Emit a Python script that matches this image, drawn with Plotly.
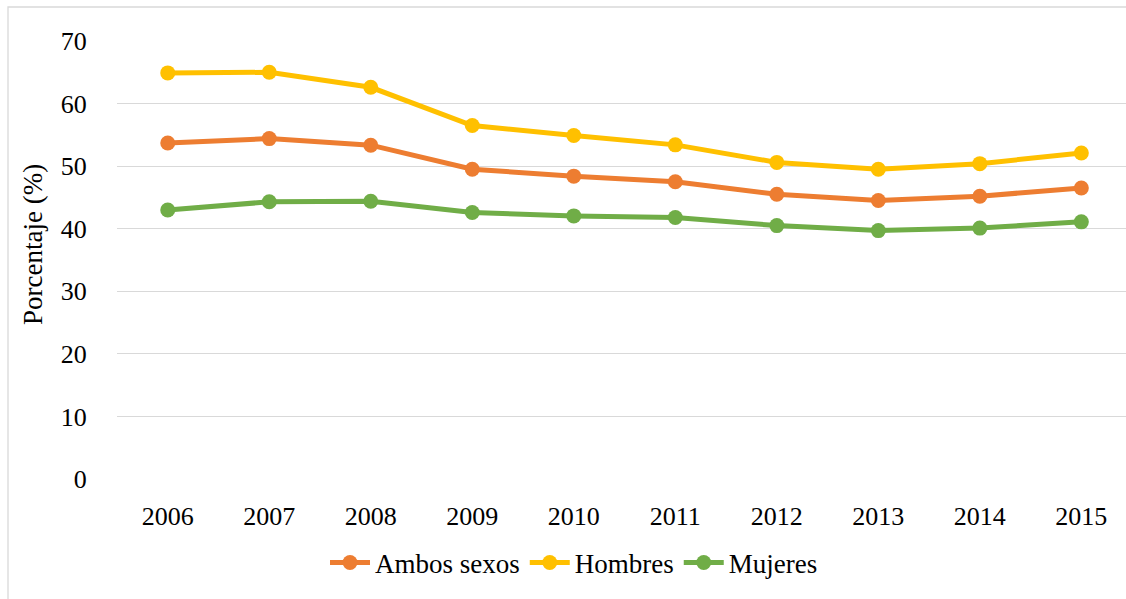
import plotly.graph_objects as go

years = ["2006", "2007", "2008", "2009", "2010", "2011", "2012", "2013", "2014", "2015"]
ambos = [53.7, 54.4, 53.35, 49.5, 48.4, 47.5, 45.5, 44.5, 45.2, 46.5]
hombres = [64.9, 65.0, 62.6, 56.5, 54.9, 53.4, 50.6, 49.5, 50.4, 52.1]
mujeres = [43.0, 44.3, 44.4, 42.6, 42.05, 41.8, 40.5, 39.7, 40.1, 41.1]
y_ticks = [0, 10, 20, 30, 40, 50, 60, 70]

W, H = 1126, 599
ML, MR, MT, MB = 117, 0, 41, 120
FONT = "Tinos, 'Liberation Serif', 'Times New Roman', 'DejaVu Serif', serif"

series = [
    ("Ambos sexos", ambos, "#ED7D31"),
    ("Hombres", hombres, "#FFC000"),
    ("Mujeres", mujeres, "#70AD47"),
]

fig = go.Figure()
for name, vals, col in series:
    fig.add_trace(go.Scatter(
        x=list(range(len(years))), y=vals, name=name, mode="lines+markers",
        line=dict(color=col, width=5),
        marker=dict(color=col, size=15),
    ))

pw = W - ML - MR
ph = H - MT - MB

def px_x(p):
    return (p - ML) / pw

def px_y(p):
    return (H - MB - p) / ph

fig.update_layout(
    width=W, height=H,
    margin=dict(l=ML, r=MR, t=MT, b=MB, pad=0),
    paper_bgcolor="white", plot_bgcolor="white",
    font=dict(family=FONT, size=26, color="black"),
    showlegend=True,
    legend=dict(orientation="h", x=px_x(574), xanchor="center", y=px_y(563), yanchor="middle",
                font=dict(family=FONT, size=27, color="black"), itemwidth=40,
                tracegroupgap=0, bgcolor="rgba(0,0,0,0)"),
    xaxis=dict(
        tickmode="array", tickvals=list(range(len(years))), ticktext=years,
        range=[-0.5, 9.44], showgrid=False, zeroline=False, showline=False,
        ticks="outside", ticklen=14, tickcolor="rgba(0,0,0,0)",
        tickfont=dict(family=FONT, size=26, color="black"),
    ),
    yaxis=dict(
        range=[0, 70], tickmode="array", tickvals=y_ticks,
        showgrid=True, gridcolor="#D9D9D9", gridwidth=1.3, zeroline=False, showline=False,
        ticks="outside", ticklen=24, tickcolor="rgba(0,0,0,0)",
        tickfont=dict(family=FONT, size=26, color="black"),
    ),
    annotations=[dict(
        text="Porcentaje (%)", textangle=-90, xref="paper", yref="paper",
        x=px_x(33), y=px_y(245), xanchor="center", yanchor="middle", showarrow=False,
        font=dict(family=FONT, size=27, color="black"),
    )],
    shapes=[dict(
        type="rect", xref="paper", yref="paper",
        x0=px_x(8), x1=px_x(1140), y0=px_y(7), y1=px_y(610),
        line=dict(color="#D9D9D9", width=1.3), fillcolor="rgba(0,0,0,0)", layer="below",
    )],
)

fig.write_html("out.html")
